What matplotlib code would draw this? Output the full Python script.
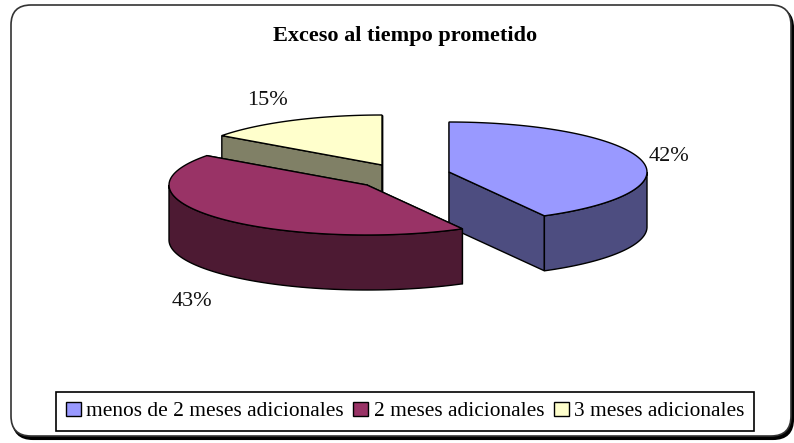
import numpy as np
import matplotlib
matplotlib.use("Agg")
import matplotlib.pyplot as plt
from matplotlib.patches import FancyBboxPatch, Polygon, Patch

# values
categories = ["menos de 2 meses adicionales", "2 meses adicionales", "3 meses adicionales"]
values = [42, 43, 15]
top_colors = ["#9999FF", "#993366", "#FFFFCC"]
side_colors = ["#4D4D80", "#4D1A33", "#808066"]

# pie geometry in pixels
centers = [(449, 172), (367, 185), (382, 165)]
label_pos = [(669, 156.5), (192, 301.5), (267, 100.5)]
rx, ry = 198, 50
depth = 55


def pt(center, deg):
    # angle runs clockwise from 12 o'clock
    t = np.radians(deg)
    return center[0] + rx * np.sin(t), center[1] - ry * np.cos(t)


def arc(center, a, b):
    return [pt(center, d) for d in np.linspace(a, b, 80)]


def down(points):
    return [(x, y + depth) for x, y in points]


def draw_slice(ax, center, a, b, top, side):
    # cut faces first, then the rim, then the top covers what is hidden
    for d in (a, b):
        edge = [center, pt(center, d)]
        ax.add_patch(Polygon(edge + down(edge)[::-1], fc=side, ec="black", lw=1))
    lo, hi = max(a, 90), min(b, 270)
    if lo < hi:
        rim = arc(center, lo, hi)
        ax.add_patch(Polygon(rim + down(rim)[::-1], fc=side, ec="black", lw=1))
    ax.add_patch(Polygon([center] + arc(center, a, b), fc=top, ec="black", lw=1))


fig = plt.figure(figsize=(7.94, 4.43), dpi=100)
ax = fig.add_axes([0, 0, 1, 1])
ax.set_xlim(0, 794)
ax.set_ylim(443, 0)
ax.axis("off")
plt.rcParams["font.family"] = "Liberation Serif"

# chart frame with its heavy lower right edge
ax.add_patch(FancyBboxPatch((13, 8), 780, 431, boxstyle="round,pad=0,rounding_size=20", fc="black", ec="black", lw=1.5))
ax.add_patch(FancyBboxPatch((11, 5), 780, 431, boxstyle="round,pad=0,rounding_size=20", fc="white", ec="#333333", lw=1.2))

ax.text(405.5, 36, "Exceso al tiempo prometido", ha="center", va="center", fontsize=16, fontweight="bold", family="Liberation Serif")

ends = np.cumsum(values) * 3.6
starts = ends - np.array(values) * 3.6

# back to front: blue, yellow, maroon
for i in [0, 2, 1]:
    draw_slice(ax, centers[i], starts[i], ends[i], top_colors[i], side_colors[i])

for pos, v in zip(label_pos, values):
    ax.text(pos[0], pos[1], f"{v}%", ha="center", va="center", fontsize=16, family="Liberation Serif", color="#111111")

handles = [Patch(fc=c, ec="black", lw=1) for c in top_colors]
leg = ax.legend(
    handles, categories, ncol=3, loc="center", bbox_to_anchor=(405, 411.5), bbox_transform=ax.transData,
    prop={"family": "Liberation Serif", "size": 15.4}, frameon=True, fancybox=False, edgecolor="black",
    framealpha=1, handlelength=0.7, handleheight=0.7, handletextpad=0.25, columnspacing=0.45, borderpad=0.45,
    borderaxespad=0,
)
leg.get_frame().set_linewidth(1.2)

fig.savefig("out.png", dpi=100)
